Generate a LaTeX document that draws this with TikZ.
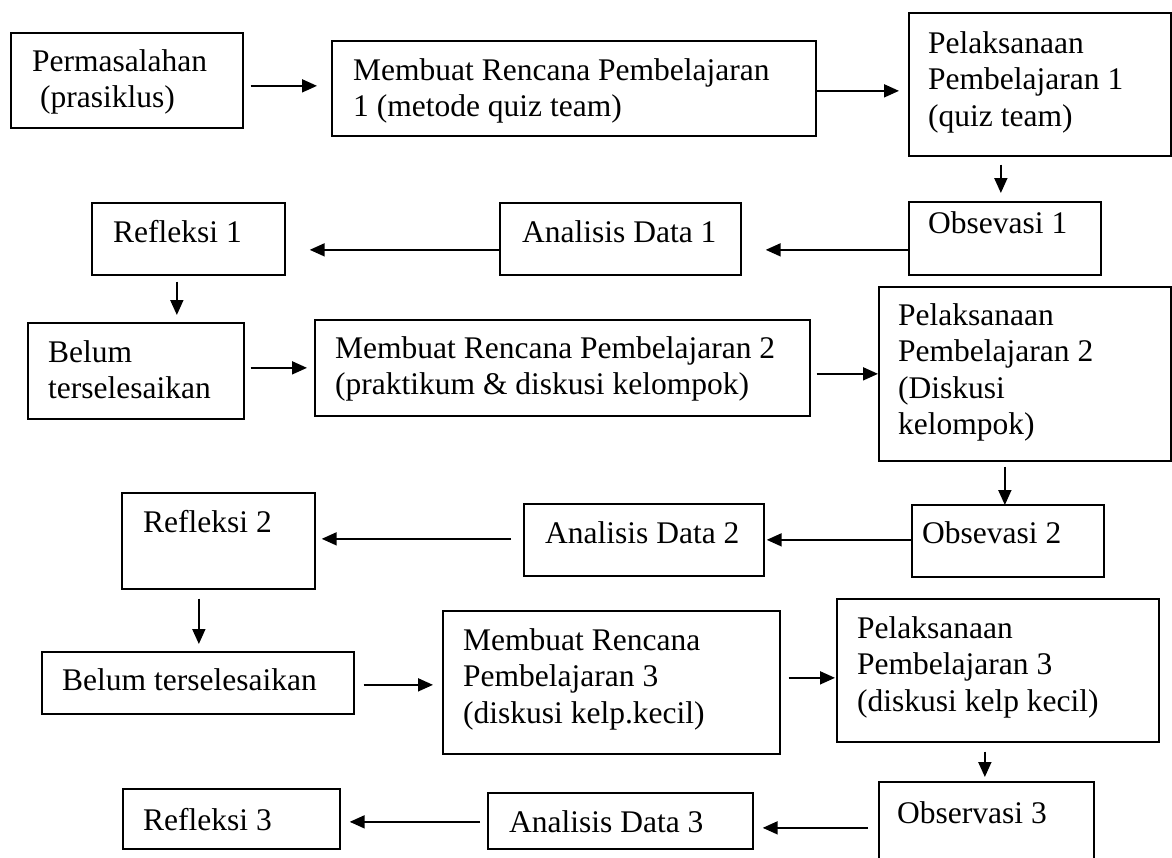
\documentclass[tikz,border=0pt]{standalone}
\usepackage{fontspec}
\setmainfont{Liberation Serif}
\usetikzlibrary{arrows.meta}
\tikzset{
  box/.style={draw=black, line width=1.7pt, rectangle, inner sep=0pt, anchor=north west},
  txt/.style={anchor=base west, inner sep=0pt, align=left, font=\fontsize{31.5}{36.5}\selectfont},
  arr/.style={line width=1.8pt, -{Triangle[length=15pt,width=13pt]}}
}
\begin{document}
\begin{tikzpicture}[x=1pt,y=1pt]
\clip (0,0) rectangle (1172,-857);
\fill[white] (0,0) rectangle (1172,-857);
% boxes: (left,-top), width, height
\node[box, minimum width=232, minimum height=95]  (b1)  at (10,-32)  {};
\node[box, minimum width=484, minimum height=95]  (b2)  at (331,-40) {};
\node[box, minimum width=262, minimum height=143] (b3)  at (908,-12) {};
\node[box, minimum width=192, minimum height=73]  (b4)  at (908,-201) {};
\node[box, minimum width=241, minimum height=72]  (b5)  at (499,-202) {};
\node[box, minimum width=193, minimum height=72]  (b6)  at (91,-202) {};
\node[box, minimum width=216, minimum height=96]  (b7)  at (27,-322) {};
\node[box, minimum width=495, minimum height=96]  (b8)  at (314,-319) {};
\node[box, minimum width=292, minimum height=174] (b9)  at (878,-286) {};
\node[box, minimum width=192, minimum height=72]  (b10) at (911,-504) {};
\node[box, minimum width=240, minimum height=72]  (b11) at (523,-503) {};
\node[box, minimum width=193, minimum height=96]  (b12) at (121,-492) {};
\node[box, minimum width=312, minimum height=62]  (b13) at (41,-651) {};
\node[box, minimum width=337, minimum height=143] (b14) at (442,-610) {};
\node[box, minimum width=322, minimum height=143] (b15) at (836,-598) {};
\node[box, minimum width=215, minimum height=89]  (b16) at (878,-781) {};
\node[box, minimum width=265, minimum height=56]  (b17) at (487,-792) {};
\node[box, minimum width=217, minimum height=60]  (b18) at (122,-788) {};
% texts (anchor = baseline of last line)
\node[txt] (t1)  at (32,-107.5)  {Permasalahan\\\kern8pt(prasiklus)};
\node[txt] (t2)  at (353,-116.5) {Membuat Rencana Pembelajaran\\1 (metode quiz team)};
\node[txt] (t3)  at (928,-126) {Pelaksanaan\\Pembelajaran 1\\(quiz team)};
\node[txt] (t4)  at (928,-233) {Obsevasi 1};
\node[txt] (t5)  at (522,-242) {Analisis Data 1};
\node[txt] (t6)  at (113,-242) {Refleksi 1};
\node[txt] (t7)  at (48,-398.5) {Belum\\terselesaikan};
\node[txt] (t8)  at (335,-394.5) {Membuat Rencana Pembelajaran 2\\(praktikum \& diskusi kelompok)};
\node[txt] (t9)  at (898,-434.5) {Pelaksanaan\\Pembelajaran 2\\(Diskusi\\kelompok)};
\node[txt] (t10) at (922,-543) {Obsevasi 2};
\node[txt] (t11) at (545,-543) {Analisis Data 2};
\node[txt] (t12) at (143,-532) {Refleksi 2};
\node[txt] (t13) at (62,-690) {Belum terselesaikan};
\node[txt] (t14) at (463,-723) {Membuat Rencana\\Pembelajaran 3\\(diskusi kelp.kecil)};
\node[txt] (t15) at (857,-711) {Pelaksanaan\\Pembelajaran 3\\(diskusi kelp kecil)};
\node[txt] (t16) at (897,-823) {Observasi 3};
\node[txt] (t17) at (509,-832) {Analisis Data 3};
\node[txt] (t18) at (143,-830) {Refleksi 3};
% arrows
\draw[arr] ([shift={(7,-5.5)}]b1.east) -- ([shift={(-14,2.5)}]b2.west);
\draw[arr] ([shift={(0,-2.5)}]b2.east) -- ([shift={(-9,-6.5)}]b3.west);
\draw[arr] ([shift={(-39,-8)}]b3.south) -- ([shift={(-4,8)}]b4.north);
\draw[arr] ([shift={(0,-11.5)}]b4.west) -- ([shift={(24,-11)}]b5.east);
\draw[arr] ([shift={(0,-11)}]b5.west) -- ([shift={(24,-11)}]b6.east);
\draw[arr] ([shift={(-11.5,-6)}]b6.south) -- ([shift={(41,7)}]b7.north);
\draw[arr] ([shift={(6,3)}]b7.east) -- ([shift={(-7,0)}]b8.west);
\draw[arr] ([shift={(6,-6)}]b8.east) -- ([shift={(0,0)}]b9.west);
\draw[arr] ([shift={(-20,-5)}]b9.south) -- ([shift={(-3,-1)}]b10.north);
\draw[arr] ([shift={(0,1)}]b10.west) -- ([shift={(2,0)}]b11.east);
\draw[arr] ([shift={(-12,1)}]b11.west) -- ([shift={(6,2)}]b12.east);
\draw[arr] ([shift={(-19.5,-9)}]b12.south) -- ([shift={(1,7)}]b13.north);
\draw[arr] ([shift={(9,-2)}]b13.east) -- ([shift={(-9,-2.5)}]b14.west);
\draw[arr] ([shift={(8,4.5)}]b14.east) -- ([shift={(-1,-7.5)}]b15.west);
\draw[arr] ([shift={(-13,-9)}]b15.south) -- ([shift={(-1.5,4)}]b16.north);
\draw[arr] ([shift={(-10,-1.5)}]b16.west) -- ([shift={(9,-7)}]b17.east);
\draw[arr] ([shift={(-7,-1)}]b17.west) -- ([shift={(9,-3)}]b18.east);
\end{tikzpicture}
\end{document}
